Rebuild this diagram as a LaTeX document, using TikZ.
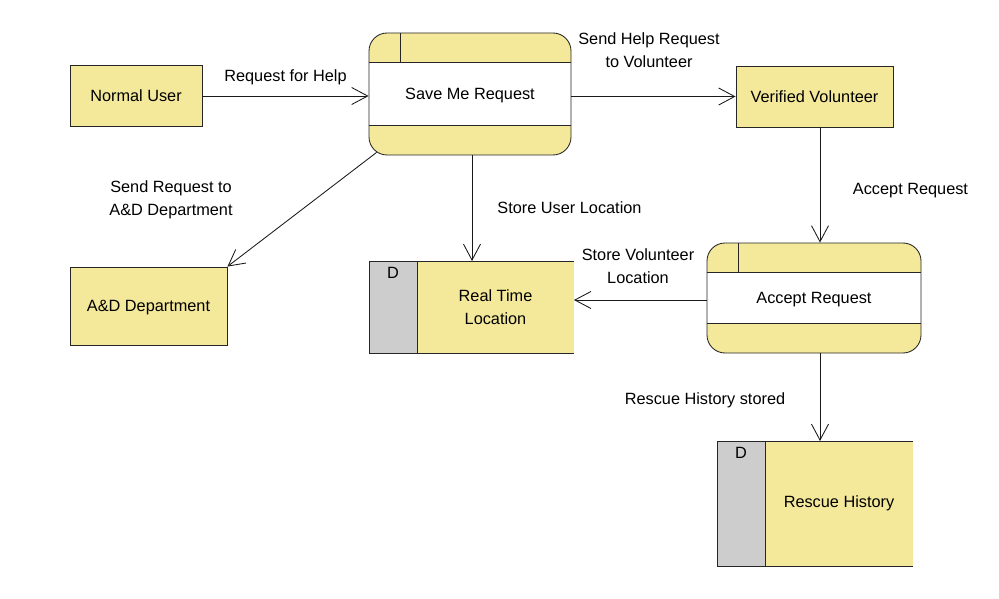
\documentclass[tikz,border=0pt]{standalone}
\usepackage{fontspec}
\setmainfont{Liberation Sans}
\usetikzlibrary{arrows.meta,positioning}
\definecolor{dfdyellow}{RGB}{244,233,155}
\definecolor{dfdgray}{RGB}{205,205,205}

\begin{document}
\begin{tikzpicture}[x=1pt,y=-1pt,
	line width=0.85pt,
	font=\fontsize{16.3}{22.7}\selectfont,
	flow/.style={draw=black!90,-{Straight Barb[length=16pt,width=17pt,line width=0.85pt]}},
	entity/.style={draw=black!85,fill=dfdyellow,minimum width=#1,inner sep=0pt,text height=11.5pt,text depth=0pt},
	process/.style={draw=black!85,fill=dfdyellow,rounded corners=18pt,inner sep=0pt,text height=11.5pt,text depth=0pt,
		path picture={
			\fill[white,sharp corners] ([yshift=-29.5pt]path picture bounding box.north west) rectangle ([yshift=29.5pt]path picture bounding box.south east);
			\draw[black!85,line width=0.85pt,sharp corners] ([yshift=-29.5pt]path picture bounding box.north west) -- ([yshift=-29.5pt]path picture bounding box.north east);
			\draw[black!85,line width=0.85pt,sharp corners] ([yshift=29.5pt]path picture bounding box.south west) -- ([yshift=29.5pt]path picture bounding box.south east);
			\draw[black!85,line width=0.85pt,sharp corners] ([xshift=31pt]path picture bounding box.north west) -- ([xshift=31pt,yshift=-29.5pt]path picture bounding box.north west);
		}},
	store/.style={fill=dfdyellow,inner sep=0pt,outer sep=0pt,align=center},
	storeid/.style={draw=black!85,fill=dfdgray,minimum width=48pt,inner sep=0pt,outer sep=0pt,
		label={[anchor=north,yshift=-6pt,inner sep=0pt]north:D}},
	lbl/.style={align=center,inner sep=0pt}]
\useasboundingbox (0,0) rectangle (999,599);

% outside entities
\node[entity=132pt,minimum height=61pt] (user) at (136,96) {Normal User};
\node[entity=157pt,minimum height=61pt] (volunteer) at (814.5,96.5) {Verified Volunteer};
\node[entity=157pt,minimum height=78pt] (dept) at (148.5,306) {A\&D Department};

% processes
\node[process,minimum width=202pt,minimum height=122pt] (saveme) at (470,94) {Save Me Request};
\node[process,minimum width=214pt,minimum height=110pt] (accept) at (814,298) {Accept Request};

% data stores
\node[store,minimum width=157pt,minimum height=92pt] (realtime) at (495.5,307) {Real Time\\Location};
\node[storeid,minimum height=92pt,left=0pt of realtime] (realtimeid) {};
\draw[black!85] (realtime.north east) -- (realtimeid.north west) -- (realtimeid.south west) -- (realtime.south east);

\node[store,minimum width=148pt,minimum height=125pt] (history) at (839,503.5) {Rescue History};
\node[storeid,minimum height=125pt,left=0pt of history] (historyid) {};
\draw[black!85] (history.north east) -- (historyid.north west) -- (historyid.south west) -- (history.south east);

% flows
\draw[flow] (user.east) -- (user.east -| saveme.west);
\draw[flow] (saveme.east |- volunteer.west) -- (volunteer.west);
\draw[flow] ([xshift=8pt,yshift=3pt]saveme.south west) -- (dept.north east);
\draw[flow] ([xshift=2pt]saveme.south) -- ([xshift=2pt]saveme.south |- realtime.north);
\draw[flow] ([xshift=5.5pt]volunteer.south) -- ([xshift=6pt]accept.north);
\draw[flow] ([yshift=-2pt]accept.west) -- ([yshift=-2pt]accept.west -| realtime.east);
\draw[flow] ([xshift=6pt]accept.south) -- ([xshift=6pt]accept.south |- history.north);

% flow labels
\node[lbl] (lhelp) at (285.5,77.5) {Request for Help};
\node[lbl] (lsend) at (649,50) {Send Help Request\\to Volunteer};
\node[lbl] (ldept) at (171,200) {Send Request to\\A\&D Department};
\node[lbl] (lstoreuser) at (569.5,208) {Store User Location};
\node[lbl] (laccept) at (910.5,190.5) {Accept Request};
\node[lbl] (lstorevol) at (638,266) {Store Volunteer\\Location};
\node[lbl] (lhistory) at (705,400.5) {Rescue History stored};
\end{tikzpicture}
\end{document}
